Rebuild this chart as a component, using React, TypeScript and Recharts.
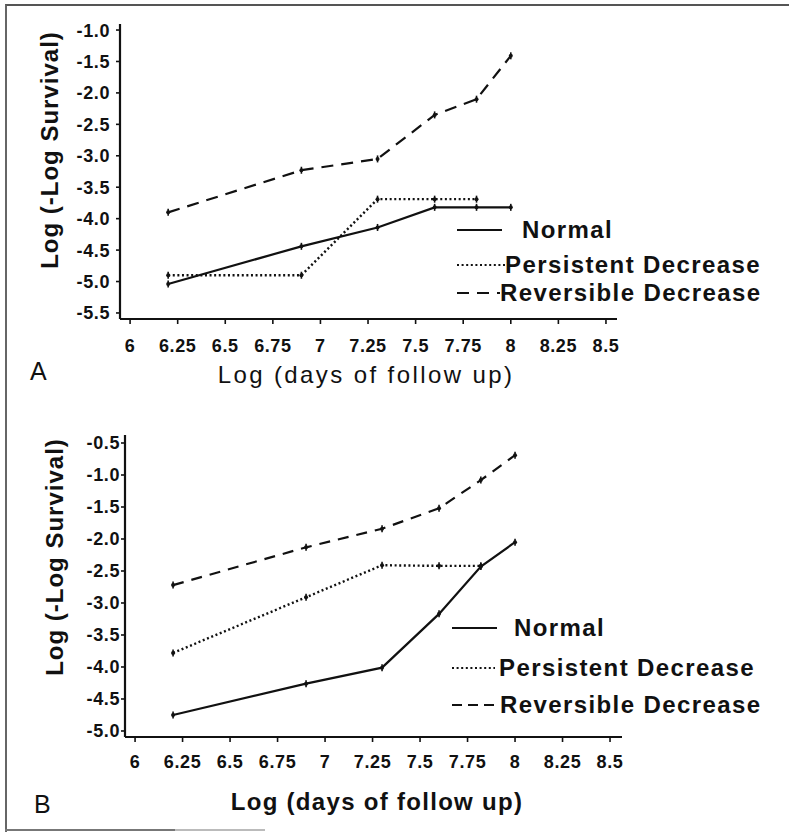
import { Legend, Line, LineChart, XAxis, YAxis } from 'recharts';

const FONT = '"Liberation Sans", Arial, Helvetica, sans-serif';

// log(days of follow up) at which the curves were evaluated
const days = [6.2, 6.9, 7.3, 7.6, 7.82, 8.0];
const xTicks = [6, 6.25, 6.5, 6.75, 7, 7.25, 7.5, 7.75, 8, 8.25, 8.5];

// panel A
const normalA = [-5.04, -4.44, -4.14, -3.82, -3.82, -3.82];
const persistentA = [-4.9, -4.9, -3.69, -3.69, -3.69, null];
const reversibleA = [-3.9, -3.23, -3.05, -2.35, -2.1, -1.41];
const yTicksA = [-5.5, -5.0, -4.5, -4.0, -3.5, -3.0, -2.5, -2.0, -1.5, -1.0];

// panel B
const normalB = [-4.75, -4.26, -4.01, -3.17, -2.43, -2.05];
const persistentB = [-3.78, -2.91, -2.41, -2.42, -2.42, null];
const reversibleB = [-2.72, -2.13, -1.84, -1.52, -1.08, -0.69];
const yTicksB = [-5.0, -4.5, -4.0, -3.5, -3.0, -2.5, -2.0, -1.5, -1.0, -0.5];

const seriesKeys = ['normal', 'persistent', 'reversible'] as const;
const seriesLabels = ['Normal', 'Persistent Decrease', 'Reversible Decrease'];

const lineStyle = {
    normal: { dash: undefined as string | undefined, width: 2.2 },
    persistent: { dash: '2 2.6', width: 2.4 },
    reversible: { dash: '12 8', width: 2.2 },
};

function buildRows(normal: (number | null)[], persistent: (number | null)[], reversible: (number | null)[]) {
    return days.map((x, i) => ({ x, normal: normal[i], persistent: persistent[i], reversible: reversible[i] }));
}

function PointMark(props: any) {
    const { cx, cy } = props;
    if (cx == null || cy == null || Number.isNaN(cx) || Number.isNaN(cy)) {
        return <g />;
    }
    return (
        <g>
            <line x1={cx} y1={cy - 3.5} x2={cx} y2={cy + 3.5} stroke="#111" strokeWidth={1.6} />
            <circle cx={cx} cy={cy} r={2} fill="#111" />
        </g>
    );
}

function XTick(props: any) {
    const { x, y, payload } = props;
    return (
        <text x={x} y={y} dy="0.71em" textAnchor="middle" fontFamily={FONT} fontSize={18} fontWeight={700} letterSpacing={0.6} fill="#111">
            {String(payload.value)}
        </text>
    );
}

function YTick(props: any) {
    const { x, y, payload } = props;
    return (
        <text x={x} y={y} dy="0.36em" textAnchor="end" fontFamily={FONT} fontSize={18} fontWeight={700} letterSpacing={0.6} fill="#111">
            {Number(payload.value).toFixed(1)}
        </text>
    );
}

interface LegendRow {
    cy: number;
    sampleEnd: number;
    textX: number;
    dash?: string;
}

function LegendBox({ rows, left, height }: { rows: LegendRow[]; left: number; height: number }) {
    return (
        <div style={{ position: 'relative', width: 340, height, pointerEvents: 'none' }}>
            {rows.map((row, i) => (
                <div key={seriesLabels[i]} style={{ position: 'absolute', top: row.cy - 15, left: 0, height: 30, display: 'flex', alignItems: 'center' }}>
                    <svg width={row.textX - left} height={30} style={{ display: 'block' }}>
                        <line
                            x1={0}
                            y1={15}
                            x2={row.sampleEnd - left}
                            y2={15}
                            stroke="#111"
                            strokeWidth={i === 1 ? 2 : 2.2}
                            strokeDasharray={row.dash}
                        />
                    </svg>
                    <span style={{ fontFamily: FONT, fontSize: 24, fontWeight: 700, letterSpacing: 1.4, color: '#111', lineHeight: '30px', whiteSpace: 'nowrap' }}>
                        {seriesLabels[i]}
                    </span>
                </div>
            ))}
        </div>
    );
}

interface PanelProps {
    top: number;
    height: number;
    letter: string;
    data: ReturnType<typeof buildRows>;
    yTicks: number[];
    xDomain: [number, number];
    yDomain: [number, number];
    margin: { top: number; right: number };
    yAxisWidth: number;
    xAxisHeight: number;
    yTickMargin: number;
    xTickMargin: number;
    yLabel: { x: number; y: number };
    xLabel: { x: number; y: number; bold: boolean; spacing: number };
    letterPos: { x: number; y: number };
    legendLeft: number;
    legendRows: LegendRow[];
    reversibleDash: string;
}

function Panel(p: PanelProps) {
    return (
        <div style={{ position: 'absolute', left: 0, top: p.top }}>
            <LineChart width={791} height={p.height} data={p.data} margin={{ top: p.margin.top, right: p.margin.right, bottom: 0, left: 0 }}>
                <XAxis
                    dataKey="x"
                    type="number"
                    domain={p.xDomain}
                    allowDataOverflow
                    ticks={xTicks}
                    interval={0}
                    height={p.xAxisHeight}
                    tick={<XTick />}
                    tickSize={5}
                    tickMargin={p.xTickMargin}
                    axisLine={{ stroke: '#111', strokeWidth: 2.2 }}
                    tickLine={{ stroke: '#111', strokeWidth: 1.6 }}
                    label={{
                        content: () => (
                            <g>
                                <text
                                    x={p.xLabel.x}
                                    y={p.xLabel.y}
                                    textAnchor="middle"
                                    fontFamily={FONT}
                                    fontSize={24}
                                    fontWeight={p.xLabel.bold ? 700 : 400}
                                    letterSpacing={p.xLabel.spacing}
                                    fill="#111"
                                >
                                    Log (days of follow up)
                                </text>
                                <text x={p.letterPos.x} y={p.letterPos.y} fontFamily={FONT} fontSize={25} fill="#111">
                                    {p.letter}
                                </text>
                            </g>
                        ),
                    }}
                />
                <YAxis
                    type="number"
                    domain={p.yDomain}
                    allowDataOverflow
                    ticks={p.yTicks}
                    interval={0}
                    width={p.yAxisWidth}
                    tick={<YTick />}
                    tickSize={4}
                    tickMargin={p.yTickMargin}
                    axisLine={{ stroke: '#111', strokeWidth: 2.2 }}
                    tickLine={{ stroke: '#111', strokeWidth: 1.6 }}
                    label={{
                        content: () => (
                            <text
                                x={p.yLabel.x}
                                y={p.yLabel.y}
                                transform={`rotate(-90 ${p.yLabel.x} ${p.yLabel.y})`}
                                textAnchor="middle"
                                dominantBaseline="central"
                                fontFamily={FONT}
                                fontSize={24}
                                fontWeight={700}
                                letterSpacing={1}
                                fill="#111"
                            >
                                Log (-Log Survival)
                            </text>
                        ),
                    }}
                />
                <Legend
                    layout="vertical"
                    align="center"
                    verticalAlign="middle"
                    wrapperStyle={{ left: p.legendLeft, top: 0, width: 340, height: p.height }}
                    content={() => <LegendBox rows={p.legendRows} left={p.legendLeft} height={p.height} />}
                />
                {seriesKeys.map((key) => (
                    <Line
                        key={key}
                        type="linear"
                        dataKey={key}
                        stroke="#111"
                        strokeWidth={lineStyle[key].width}
                        strokeDasharray={key === 'reversible' ? p.reversibleDash : lineStyle[key].dash}
                        dot={<PointMark />}
                        activeDot={false}
                        isAnimationActive={false}
                        legendType="none"
                    />
                ))}
            </LineChart>
        </div>
    );
}

export default function App() {
    return (
        <div style={{ position: 'absolute', left: 0, top: 0, width: 791, height: 835, background: '#fff', overflow: 'hidden' }}>
            <div style={{ position: 'absolute', left: 5, top: 4, width: 782, height: 826, borderTop: '2px solid #555', borderLeft: '2px solid #666' }} />
            <div style={{ position: 'absolute', left: 5, top: 829, width: 170, height: 2, background: '#777' }} />
            <div style={{ position: 'absolute', left: 175, top: 829, width: 90, height: 2, background: '#bbb' }} />
            <Panel
                top={0}
                height={410}
                letter="A"
                data={buildRows(normalA, persistentA, reversibleA)}
                yTicks={yTicksA}
                xDomain={[5.947, 8.558]}
                yDomain={[-5.596, -0.904]}
                margin={{ top: 24, right: 174 }}
                yAxisWidth={120}
                xAxisHeight={91}
                yTickMargin={6}
                xTickMargin={15}
                yLabel={{ x: 49, y: 150 }}
                xLabel={{ x: 366, y: 383, bold: false, spacing: 2.4 }}
                letterPos={{ x: 30, y: 380 }}
                legendLeft={457}
                legendRows={[
                    { cy: 230, sampleEnd: 502, textX: 522 },
                    { cy: 265, sampleEnd: 505, textX: 505, dash: '2 2.6' },
                    { cy: 293, sampleEnd: 506, textX: 500, dash: '12 8' },
                ]}
                reversibleDash="12 8"
            />
            <Panel
                top={410}
                height={425}
                letter="B"
                data={buildRows(normalB, persistentB, reversibleB)}
                yTicks={yTicksB}
                xDomain={[5.947, 8.563]}
                yDomain={[-5.094, -0.375]}
                margin={{ top: 25, right: 169 }}
                yAxisWidth={125}
                xAxisHeight={98}
                yTickMargin={1}
                xTickMargin={13}
                yLabel={{ x: 54, y: 147 }}
                xLabel={{ x: 377, y: 400, bold: true, spacing: 1.3 }}
                letterPos={{ x: 34, y: 403 }}
                legendLeft={452}
                legendRows={[
                    { cy: 218, sampleEnd: 497, textX: 514 },
                    { cy: 258, sampleEnd: 495, textX: 499, dash: '2 2.6' },
                    { cy: 295, sampleEnd: 494, textX: 500, dash: '10 6' },
                ]}
                reversibleDash="11 8"
            />
        </div>
    );
}
